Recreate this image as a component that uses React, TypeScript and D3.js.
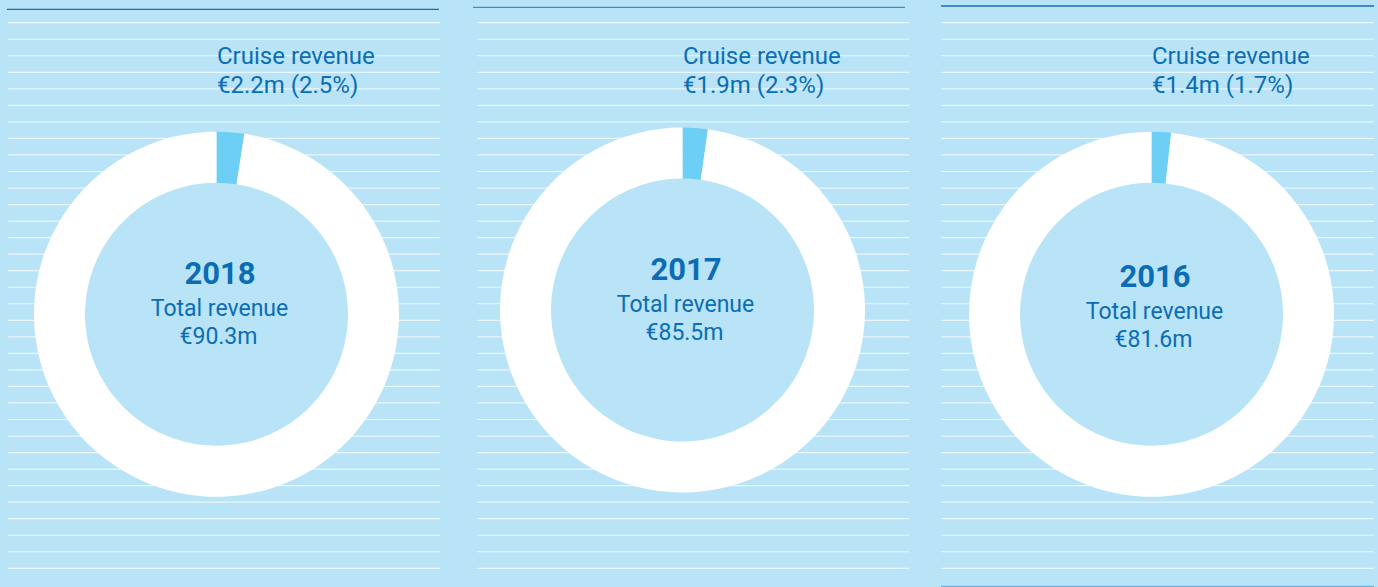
import React from "react";
import * as d3 from "d3";

const years = ["2018", "2017", "2016"];
const totalRevenue = [90.3, 85.5, 81.6];
const cruiseRevenue = [2.2, 1.9, 1.4];
const cruiseShare = [2.5, 2.3, 1.7];

const W = 1378;
const H = 587;
const BG = "#b9e4f7";
const TEXT = "#0b6db5";
const SLICE = "#6dcff6";
const FONT = "Roboto, 'Noto Sans', sans-serif";

// panel layout
const panels = [
  { x0: 8, x1: 440, rx0: 7, rx1: 439, ry: 9.3, rule: "#1b6db3", cx: 216.5, cy: 314.2, tdy: 0 },
  { x0: 477, x1: 909, rx0: 473, rx1: 905, ry: 7.3, rule: "#3f8dcc", cx: 682.5, cy: 310, tdy: 0 },
  { x0: 941, x1: 1374, rx0: 941, rx1: 1374, ry: 6, rule: "#1b6db3", cx: 1151.5, cy: 314.2, tdy: 3 },
];

const LINE_COUNT = 34;
const lineY = d3.scaleLinear().domain([0, LINE_COUNT - 1]).range([22.7, 568.3]);

const R_OUT = 182.5;
const R_IN = 131.5;

export default function App() {
  const arc = d3.arc<d3.PieArcDatum<number>>().innerRadius(R_IN).outerRadius(R_OUT);
  const pie = d3.pie<number>().sort(null).startAngle(0).endAngle(2 * Math.PI);

  return (
    <svg width={W} height={H} style={{ position: "absolute", left: 0, top: 0, display: "block" }}>
      <rect x={0} y={0} width={W} height={H} fill={BG} />
      {panels.map((p, i) => {
        const slices = pie([cruiseRevenue[i], totalRevenue[i] - cruiseRevenue[i]]);
        return (
          <g key={years[i]}>
            {d3.range(LINE_COUNT).map((k) => (
              <line
                key={k}
                x1={p.x0}
                x2={p.x1}
                y1={lineY(k)}
                y2={lineY(k)}
                stroke="#ffffff"
                strokeOpacity={0.7}
                strokeWidth={1.2}
              />
            ))}
            <line x1={p.rx0} x2={p.rx1} y1={p.ry} y2={p.ry} stroke={p.rule} strokeWidth={1.3} />
            <g transform={`translate(${p.cx},${p.cy})`}>
              <circle r={R_IN} fill={BG} />
              {slices.map((s, j) => (
                <path key={j} d={arc(s) || ""} fill={j === 0 ? SLICE : "#ffffff"} />
              ))}
              <text
                x={3.5}
                y={-30 + p.tdy}
                textAnchor="middle"
                fontFamily={FONT}
                fontWeight={700}
                fontSize={31}
                fill={TEXT}
              >
                {years[i]}
              </text>
              <text x={3} y={2 + p.tdy} textAnchor="middle" fontFamily={FONT} fontSize={23} fill={TEXT}>
                Total revenue
              </text>
              <text x={2} y={30 + p.tdy} textAnchor="middle" fontFamily={FONT} fontSize={23} fill={TEXT}>
                {`€${totalRevenue[i].toFixed(1)}m`}
              </text>
            </g>
            <text x={p.cx + 0.5} y={63.5} fontFamily={FONT} fontSize={24} fill={TEXT}>
              Cruise revenue
            </text>
            <text x={p.cx + 0.5} y={93} fontFamily={FONT} fontSize={24} fill={TEXT}>
              {`€${cruiseRevenue[i].toFixed(1)}m (${cruiseShare[i].toFixed(1)}%)`}
            </text>
          </g>
        );
      })}
      <line x1={941} x2={1374} y1={586.3} y2={586.3} stroke="#6ab0dc" strokeWidth={1.3} />
    </svg>
  );
}
